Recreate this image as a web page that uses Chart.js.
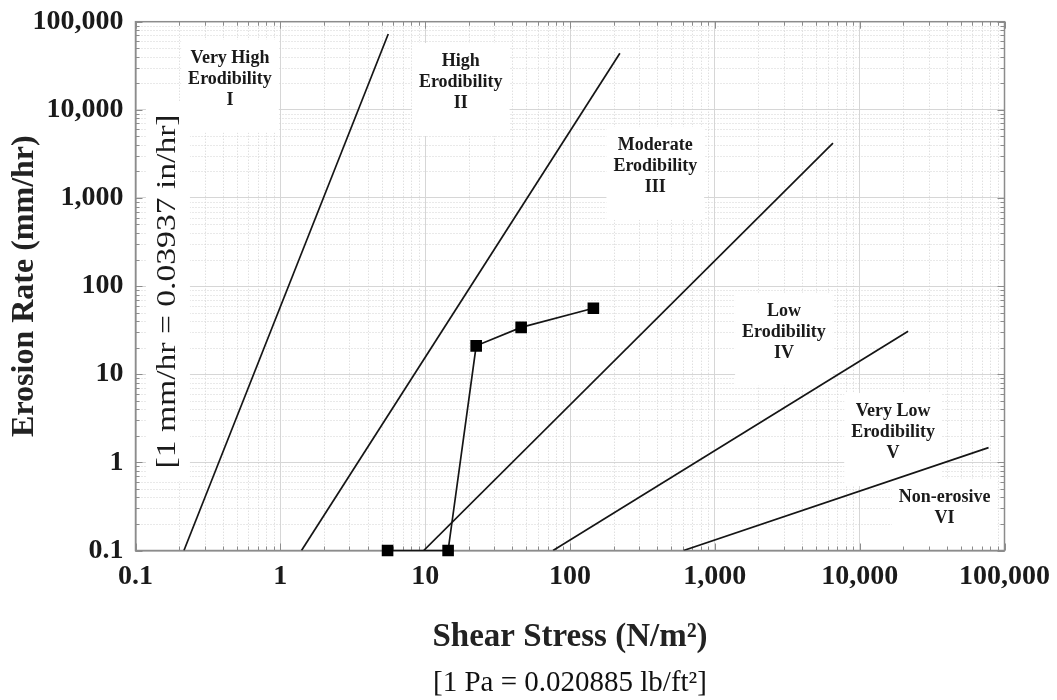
<!DOCTYPE html>
<html>
<head>
<meta charset="utf-8">
<script src="https://cdn.jsdelivr.net/npm/chart.js@4.4.1/dist/chart.umd.min.js"></script>
<style>
  html, body { margin: 0; padding: 0; background: #fff; }
  #wrap { width: 1057px; height: 700px; }
</style>
</head>
<body>
<div id="wrap"><canvas id="erosionChart" width="1057" height="700"></canvas></div>
<script>
// tick labels (log axes, powers of ten only)
const xTickValues = [0.1, 1, 10, 100, 1000, 10000, 100000];
const xTickLabels = ['0.1', '1', '10', '100', '1,000', '10,000', '100,000'];
const yTickValues = [0.1, 1, 10, 100, 1000, 10000, 100000];
const yTickLabels = ['0.1', '1', '10', '100', '1,000', '10,000', '100,000'];

// test results: shear stress (N/m2) vs erosion rate (mm/hr)
const testStress = [5.5, 14.4, 22.5, 46, 145];
const testRate = [0.1, 0.1, 21, 34, 56];

// category boundary lines (start point, end point)
const boundaryStress = [[0.216, 5.56], [1.40, 221], [9.77, 6540], [76.4, 21600], [608, 77600]];
const boundaryRate = [[0.1, 72600], [0.1, 43900], [0.1, 4200], [0.1, 30.8], [0.1, 1.47]];

// erodibility zone labels and where they sit (data units)
const zoneText = [
  ['Very High', 'Erodibility', 'I'],
  ['High', 'Erodibility', 'II'],
  ['Moderate', 'Erodibility', 'III'],
  ['Low', 'Erodibility', 'IV'],
  ['Very Low', 'Erodibility', 'V'],
  ['Non-erosive', 'VI']
];
const zoneStress = [0.449, 17.6, 388, 3000, 17000, 38600];
const zoneRate = [22300, 20400, 2280, 30, 2.18, 0.307];

const serif = '"Liberation Serif", "Times New Roman", serif';

function isMajor(v) {
  const l = Math.log10(v);
  return Math.abs(l - Math.round(l)) < 1e-6;
}

// 1..9 x 10^n for the grid
const gridValues = [];
for (let e = -1; e <= 4; e++) {
  for (let m = 1; m <= 9; m++) gridValues.push(+(m * Math.pow(10, e)).toPrecision(6));
}
gridValues.push(100000);

function labelFor(values, labels, value) {
  const i = values.findIndex(v => Math.abs(v - value) / v < 1e-6);
  return i >= 0 ? labels[i] : '';
}

const extras = {
  id: 'extras',
  beforeDatasetsDraw(chart) {
    const {ctx, chartArea: a, scales: {x, y}} = chart;
    ctx.save();
    // dotted minor grid
    ctx.strokeStyle = '#d2d2d2';
    ctx.lineWidth = 1;
    ctx.setLineDash([1, 2]);
    gridValues.filter(v => !isMajor(v)).forEach(v => {
      const px = Math.round(x.getPixelForValue(v)) + 0.5;
      ctx.beginPath(); ctx.moveTo(px, a.top); ctx.lineTo(px, a.bottom); ctx.stroke();
      const py = Math.round(y.getPixelForValue(v)) + 0.5;
      ctx.beginPath(); ctx.moveTo(a.left, py); ctx.lineTo(a.right, py); ctx.stroke();
    });
    ctx.setLineDash([]);

    // white patches behind the zone labels
    ctx.fillStyle = '#fff';
    ctx.font = 'bold 18px ' + serif;
    zoneText.forEach((lines, i) => {
      const cx = x.getPixelForValue(zoneStress[i]);
      const cy = y.getPixelForValue(zoneRate[i]);
      const w = Math.max(...lines.map(t => ctx.measureText(t).width)) + 14;
      const h = lines.length * 21;
      ctx.fillRect(cx - w / 2, cy - h / 2 - 8, w, h + 30);
    });

    // white strip behind the unit note
    const nx = x.getPixelForValue(0.1675);
    const ny = y.getPixelForValue(87);
    ctx.fillRect(nx - 22, ny - 190, 44, 380);

    // frame and inward tick marks on all four sides
    ctx.strokeStyle = '#8c8c8c';
    ctx.lineWidth = 1.5;
    ctx.strokeRect(a.left, a.top, a.right - a.left, a.bottom - a.top);
    ctx.lineWidth = 1;
    gridValues.forEach(v => {
      const len = isMajor(v) ? 7 : 4;
      const px = Math.round(x.getPixelForValue(v)) + 0.5;
      ctx.beginPath();
      ctx.moveTo(px, a.bottom); ctx.lineTo(px, a.bottom - len);
      ctx.moveTo(px, a.top); ctx.lineTo(px, a.top + len);
      ctx.stroke();
      const py = Math.round(y.getPixelForValue(v)) + 0.5;
      ctx.beginPath();
      ctx.moveTo(a.left, py); ctx.lineTo(a.left + len, py);
      ctx.moveTo(a.right, py); ctx.lineTo(a.right - len, py);
      ctx.stroke();
    });
    ctx.restore();
  },
  afterDatasetsDraw(chart) {
    const {ctx, scales: {x, y}} = chart;
    ctx.save();
    ctx.fillStyle = '#1a1a1a';
    ctx.textAlign = 'center';
    ctx.textBaseline = 'middle';
    ctx.font = 'bold 18px ' + serif;
    zoneText.forEach((lines, i) => {
      const cx = x.getPixelForValue(zoneStress[i]);
      const cy = y.getPixelForValue(zoneRate[i]);
      const start = cy - (lines.length - 1) * 21 / 2;
      lines.forEach((t, k) => ctx.fillText(t, cx, start + k * 21));
    });

    // rotated unit note inside the plot
    ctx.translate(x.getPixelForValue(0.1675), y.getPixelForValue(87));
    ctx.rotate(-Math.PI / 2);
    ctx.scale(1.2, 1);
    ctx.font = '28px ' + serif;
    ctx.fillText('[1 mm/hr = 0.03937 in/hr]', 0, 0);
    ctx.restore();
  }
};

const datasets = boundaryStress.map((xs, i) => ({
  data: [{x: xs[0], y: boundaryRate[i][0]}, {x: xs[1], y: boundaryRate[i][1]}],
  showLine: true,
  borderColor: '#151515',
  borderWidth: 1.7,
  pointRadius: 0
}));

datasets.push({
  data: testStress.map((s, i) => ({x: s, y: testRate[i]})),
  showLine: true,
  borderColor: '#151515',
  borderWidth: 1.7,
  pointStyle: 'rect',
  pointRadius: 7,
  pointBackgroundColor: '#000',
  pointBorderColor: '#000',
  clip: false
});

const tickFont = { family: serif, size: 28, weight: 'bold', lineHeight: 1 };

new Chart(document.getElementById('erosionChart'), {
  type: 'scatter',
  data: { datasets: datasets },
  options: {
    responsive: false,
    animation: false,
    layout: { padding: { top: 21.7, right: 52.5, left: 0, bottom: 0 } },
    plugins: {
      legend: { display: false },
      tooltip: { enabled: false },
      subtitle: {
        display: true,
        position: 'bottom',
        fullSize: false,
        text: '[1 Pa = 0.020885 lb/ft²]',
        color: '#111',
        font: { family: serif, size: 29, weight: 'normal', lineHeight: 1 },
        padding: { top: 0, bottom: 2 }
      }
    },
    scales: {
      x: {
        type: 'logarithmic',
        min: 0.1,
        max: 100000,
        afterBuildTicks: s => { s.ticks = gridValues.map(v => ({value: v, major: isMajor(v)})); },
        afterFit: s => { s.height = 118.5; s.paddingLeft = 0; s.paddingRight = 0; },
        ticks: {
          autoSkip: false,
          maxRotation: 0,
          padding: 12,
          color: '#1a1a1a',
          font: tickFont,
          callback: v => labelFor(xTickValues, xTickLabels, v)
        },
        grid: {
          drawTicks: false,
          color: c => (c.tick && isMajor(c.tick.value)) ? '#d6d6d6' : 'rgba(0,0,0,0)'
        },
        border: { color: '#8c8c8c', width: 1.5 },
        title: {
          display: true,
          text: 'Shear Stress (N/m²)',
          color: '#222',
          font: { family: serif, size: 33, weight: 'bold', lineHeight: 1 },
          padding: { top: 0, bottom: 15 }
        }
      },
      y: {
        type: 'logarithmic',
        min: 0.1,
        max: 100000,
        afterBuildTicks: s => { s.ticks = gridValues.map(v => ({value: v, major: isMajor(v)})); },
        afterFit: s => { s.width = 135.5; s.paddingTop = 0; s.paddingBottom = 0; },
        ticks: {
          autoSkip: false,
          padding: 12,
          color: '#1a1a1a',
          font: tickFont,
          callback: v => labelFor(yTickValues, yTickLabels, v)
        },
        grid: {
          drawTicks: false,
          color: c => (c.tick && isMajor(c.tick.value)) ? '#d6d6d6' : 'rgba(0,0,0,0)'
        },
        border: { color: '#8c8c8c', width: 1.5 },
        title: {
          display: true,
          text: 'Erosion Rate (mm/hr)',
          color: '#222',
          font: { family: serif, size: 32, weight: 'bold', lineHeight: 1 },
          padding: { top: 9, bottom: 0 }
        }
      }
    }
  },
  plugins: [extras]
});
</script>
</body>
</html>
